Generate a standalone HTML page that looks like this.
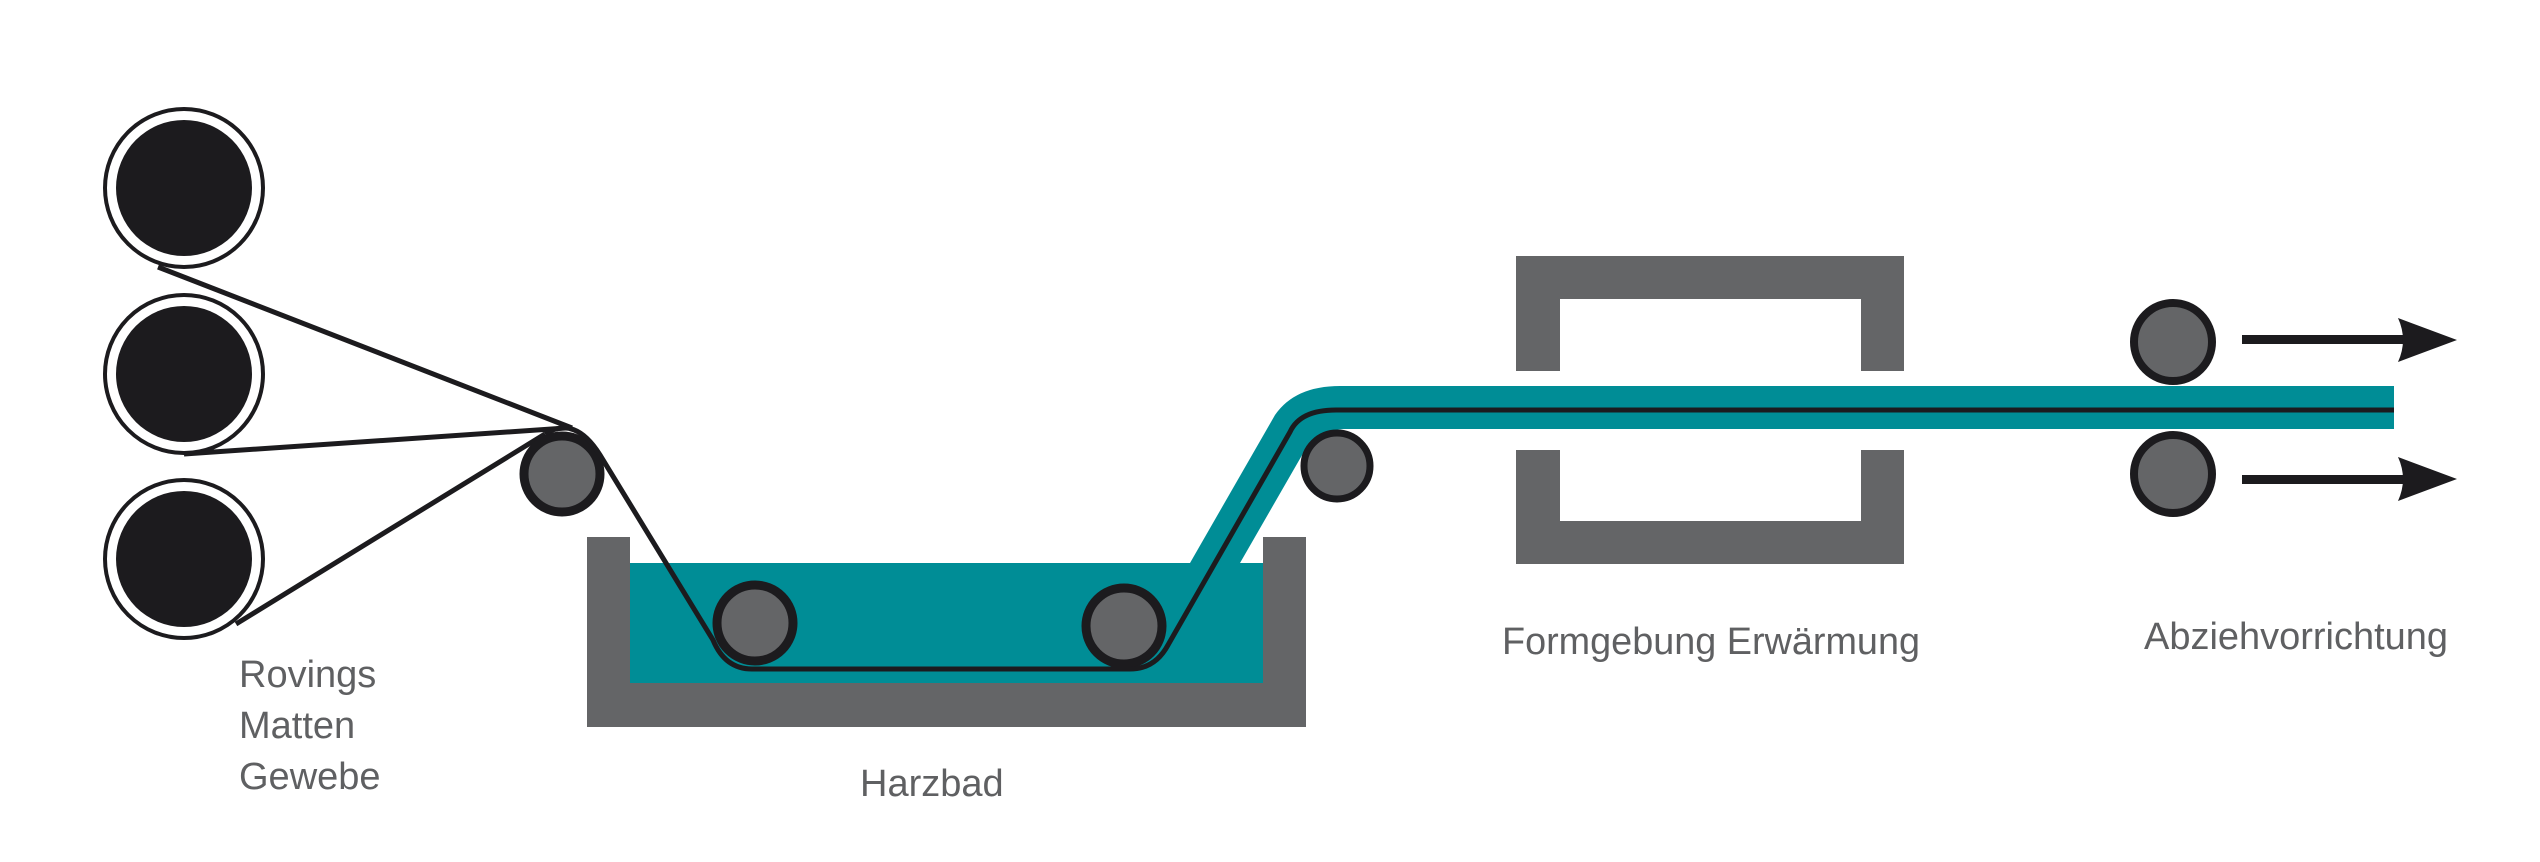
<!DOCTYPE html>
<html><head><meta charset="utf-8"><style>html,body{margin:0;padding:0;background:#fff}svg{display:block}</style></head>
<body>
<svg width="2540" height="862" viewBox="0 0 2540 862" xmlns="http://www.w3.org/2000/svg">
<g fill="#1c1b1e" stroke="#1c1b1e" stroke-width="4">
<circle cx="184" cy="188" r="79" fill="#fff"/>
<circle cx="184" cy="188" r="68" stroke="none"/>
<circle cx="184" cy="374" r="79" fill="#fff"/>
<circle cx="184" cy="374" r="68" stroke="none"/>
<circle cx="184" cy="559" r="79" fill="#fff"/>
<circle cx="184" cy="559" r="68" stroke="none"/>
</g>
<g stroke="#1c1b1e" stroke-width="5" fill="none">
<line x1="158" y1="267" x2="572" y2="428"/>
<line x1="184" y1="454" x2="566" y2="428"/>
<line x1="236" y1="624" x2="545" y2="434"/>
</g>
<!-- tank -->
<path d="M587 537 H630 V683 H1263 V537 H1306 V727 H587 Z" fill="#646567"/>
<path d="M630 563 H1190 L1275 415 Q1295 386 1340 386 H2394 V429 H1345 Q1320 429 1305 450 L1240 563 H1263 V683 H630 Z" fill="#008d96"/>
<!-- guide roller -->
<circle cx="562" cy="474" r="38" fill="#646567" stroke="#1c1b1e" stroke-width="9"/>
<circle cx="755" cy="623" r="38" fill="#646567" stroke="#1c1b1e" stroke-width="9"/>
<circle cx="1124" cy="626" r="38" fill="#646567" stroke="#1c1b1e" stroke-width="9"/>
<!-- fiber -->
<path d="M545 434 Q575 415 600 455 L713 640 Q725 669 752 669 H1130 Q1155 669 1168 645 L1290 432 Q1300 410 1336 410 H2394" fill="none" stroke="#1c1b1e" stroke-width="5"/>
<circle cx="1337" cy="466" r="33" fill="#646567" stroke="#1c1b1e" stroke-width="7"/>
<!-- mold -->
<path d="M1516 256 H1904 V371 H1861 V299 H1560 V371 H1516 Z" fill="#646567"/>
<path d="M1516 450 H1560 V521 H1861 V450 H1904 V564 H1516 Z" fill="#646567"/>
<!-- pull rollers -->
<circle cx="2173" cy="342" r="39" fill="#646567" stroke="#1c1b1e" stroke-width="8"/>
<circle cx="2173" cy="474" r="39" fill="#646567" stroke="#1c1b1e" stroke-width="8"/>
<g fill="#1c1b1e">
<rect x="2242" y="335" width="165" height="9"/>
<path d="M2398 318 L2457 340 L2398 362 Q2408 340 2398 318 Z"/>
<rect x="2242" y="475" width="165" height="9"/>
<path d="M2398 457 L2457 479 L2398 501 Q2408 479 2398 457 Z"/>
</g>
<g font-family="Liberation Sans, sans-serif" font-size="38" fill="#5f6062">
<text x="239" y="687">Rovings</text>
<text x="239" y="738">Matten</text>
<text x="239" y="789">Gewebe</text>
<text x="860" y="796">Harzbad</text>
<text x="1502" y="654" textLength="418" lengthAdjust="spacingAndGlyphs">Formgebung Erwärmung</text>
<text x="2144" y="649" textLength="304" lengthAdjust="spacingAndGlyphs">Abziehvorrichtung</text>
</g>
</svg>
</body></html>
